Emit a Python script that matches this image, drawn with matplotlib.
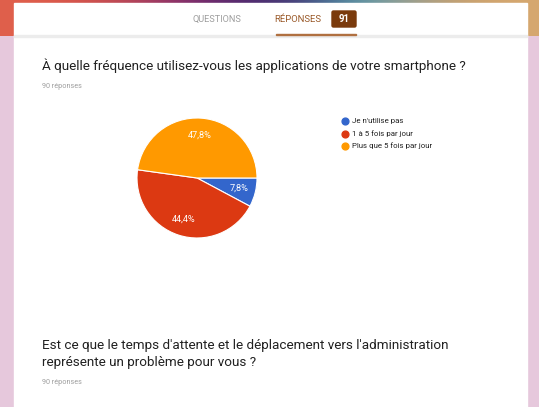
import matplotlib.pyplot as plt
import numpy as np
from matplotlib.patches import Rectangle, FancyBboxPatch

plt.rcParams['font.family'] = ['Roboto', 'DejaVu Sans']

# donnees
labels = ["Je n'utilise pas", "1 à 5 fois par jour", "Plus que 5 fois par jour"]
valeurs = [7.8, 44.4, 47.8]
couleurs = ["#3366cc", "#dc3912", "#ff9900"]

titre_1 = "À quelle fréquence utilisez-vous les applications de votre smartphone ?"
titre_2 = "Est ce que le temps d'attente et le déplacement vers l'administration\nreprésente un problème pour vous ?"
nb_reponses = "90 réponses"
nb_total = "91"

W, H = 539, 407
fig = plt.figure(figsize=(W / 100, H / 100), dpi=100)

# fond de page (coordonnees en pixels)
bg = fig.add_axes([0, 0, 1, 1])
bg.axis("off")

# bandeau colore en haut
bande = np.array([[224, 96, 76], [214, 84, 74], [180, 70, 90], [130, 45, 110],
                  [80, 40, 110], [70, 60, 120], [80, 150, 170], [150, 160, 150],
                  [200, 160, 110], [214, 168, 112]]) / 255.0
bg.imshow(bande[np.newaxis, :, :], extent=(0, W, 36, 0), aspect="auto",
          interpolation="bicubic", zorder=1)
bg.add_patch(Rectangle((0, 36), W, H, color="#e6c8dc", zorder=0.5))
bg.set_xlim(0, W)
bg.set_ylim(H, 0)

# carte blanche
bg.add_patch(Rectangle((14, 3), 513, H, color="white", zorder=2))
bg.add_patch(Rectangle((14, 35), 513, 2, color="#ececec", zorder=3))
bg.add_patch(Rectangle((276, 33.5), 80, 1.5, color="#b07040", zorder=4))

# onglets
bg.text(217, 19, "QUESTIONS", fontsize=6.6, color="#9e9e9e", ha="center", va="center", zorder=5)
bg.text(298, 19, "RÉPONSES", fontsize=6.8, color="#9a5a2a", ha="center", va="center", zorder=5)
bg.add_patch(FancyBboxPatch((332, 11), 24, 16, boxstyle="round,pad=0,rounding_size=1.5",
                            color="#7a3a0c", zorder=5))
bg.text(344, 19.5, nb_total, fontsize=7, color="white", weight="bold",
        ha="center", va="center", zorder=6)

# textes des questions
bg.text(42, 66, titre_1, fontsize=9.7, color="#212121", ha="left", va="center", zorder=5)
bg.text(42, 86, nb_reponses, fontsize=5.2, color="#9e9e9e", ha="left", va="center", zorder=5)
bg.text(42, 354, titre_2, fontsize=9.7, color="#212121", ha="left", va="center",
        linespacing=1.45, zorder=5)
bg.text(42, 382, nb_reponses, fontsize=5.2, color="#9e9e9e", ha="left", va="center", zorder=5)

# legende
for i, (lab, c) in enumerate(zip(labels, couleurs)):
    y = 121 + i * 12.5
    bg.scatter([345], [y], s=24, color=c, zorder=6)
    bg.text(352, y, lab, fontsize=5.7, color="#222222", ha="left", va="center", zorder=6)

# camembert
cx, cy, r = 197, 178, 60
ax = fig.add_axes([(cx - r) / W, (H - cy - r) / H, 2 * r / W, 2 * r / H])
ax.pie(valeurs, colors=couleurs, startangle=0, counterclock=False,
       autopct=lambda p: ("%.1f%%" % p).replace(".", ","), pctdistance=0.72,
       wedgeprops=dict(edgecolor="white", linewidth=0.8),
       textprops=dict(color="white", fontsize=6.6))
ax.set_xlim(-1, 1)
ax.set_ylim(-1, 1)
ax.set_aspect("equal")
ax.axis("off")

plt.savefig("out.png", dpi=100)
